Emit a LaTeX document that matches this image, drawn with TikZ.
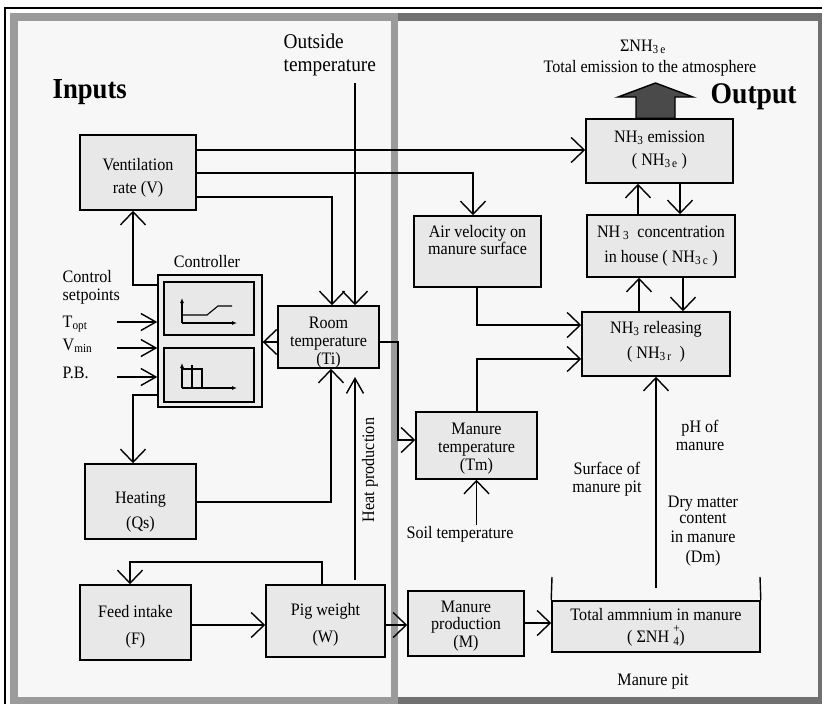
\documentclass[tikz,border=0pt]{standalone}
\usepackage{fontspec}
\setmainfont[FakeStretch=0.92]{Liberation Serif}
\usetikzlibrary{arrows.meta}
\definecolor{bgc}{HTML}{F7F7F7}
\definecolor{boxc}{HTML}{E8E8E8}
\definecolor{lpc}{HTML}{9B9B9B}
\definecolor{rpc}{HTML}{707070}
\definecolor{bigc}{HTML}{4A4A4A}
\definecolor{ctrlc}{HTML}{EDEDED}
\newcommand{\bt}{\fontsize{17.5}{21}\selectfont}
\newcommand{\lead}[1]{\fontsize{17.5}{#1}\selectfont}
\newcommand{\tb}[3]{\rule{0pt}{#1pt}#3\rule[-#2pt]{0pt}{#2pt}}
\begin{document}
\begin{tikzpicture}[x=1pt,y=-1pt,line width=1.4pt,
  >={Straight Barb[length=13pt,width=25pt]},
  narrowtip/.style={-{Straight Barb[length=15pt,width=17pt]}},
  box/.style={draw,line width=1.6pt,fill=boxc,inner sep=0pt,align=center,font=\bt},
  txt/.style={inner sep=0pt,anchor=base,font=\bt},
  axis/.style={line width=1.1pt,-{Latex[length=5pt,width=4pt]}},
  graph/.style={line width=1.1pt}]
\useasboundingbox (0,0) rectangle (822,704);
% panels
\fill[white] (0,0) rectangle (822,704);
\fill[rpc] (391,13) rectangle (822,704);
\fill[bgc] (398,21) rectangle (818,697);
\fill[lpc] (10,13) rectangle (398,704);
\fill[bgc] (18,21) rectangle (391,697);
\draw[line width=2pt] (5,704) -- (5,7.5) -- (822,7.5);

% boxes
\node[box,minimum width=116pt,minimum height=75pt,font=\lead{23}] (vent) at (138,172.5) {\tb{23}{5}{Ventilation\\rate (V)}};
\node[box,minimum width=147pt,minimum height=64pt,font=\lead{23}] (emis) at (659.5,151) {\tb{13}{8}{NH\textsubscript{3} emission\\( NH\textsubscript{3\,e} )}};
\node[box,minimum width=148pt,minimum height=62pt,font=\lead{25}] (conc) at (661,246) {\tb{14}{7}{NH\,\textsubscript{3}\ \ concentration\\in house ( NH\textsubscript{3\,c} )}};
\node[box,minimum width=127pt,minimum height=71pt] (air) at (477.5,251.5) {};
\node[inner sep=0pt,anchor=north,align=center,font=\lead{16}] (airt) at (477.5,225) {Air velocity on\\manure surface};
\node[box,minimum width=148pt,minimum height=64pt,font=\lead{25}] (rel) at (656,344) {\tb{13}{10}{NH\textsubscript{3} releasing\\( NH\textsubscript{3\,r}\ \ )}};
\node[box,minimum width=101pt,minimum height=62pt,font=\lead{18}] (room) at (328.5,337) {\tb{22}{4}{Room\\temperature\\(Ti)}};
\node[draw,line width=1.4pt,fill=ctrlc,minimum width=104pt,minimum height=132pt,inner sep=0pt] (ctrl) at (210,341) {};
\node[draw,line width=2pt,fill=boxc,minimum width=90pt,minimum height=53pt,inner sep=0pt] (ctrla) at (209,308.5) {};
\node[draw,line width=2pt,fill=boxc,minimum width=90pt,minimum height=54pt,inner sep=0pt] (ctrlb) at (209,375) {};
\node[box,minimum width=111pt,minimum height=75pt,font=\lead{25}] (heat) at (140.5,501.5) {\tb{33}{5}{Heating\\(Qs)}};
\node[box,minimum width=121pt,minimum height=67pt,font=\lead{18}] (mtemp) at (476.5,445.5) {\tb{17}{4}{Manure\\temperature\\(Tm)}};
\node[box,minimum width=111pt,minimum height=75pt,font=\lead{27}] (feed) at (135.5,622.5) {\tb{21}{5}{Feed intake\\(F)}};
\node[box,minimum width=119pt,minimum height=72pt,font=\lead{27}] (pig) at (325.5,621) {\tb{20}{5}{Pig weight\\(W)}};
\node[box,minimum width=116pt,minimum height=65pt,font=\lead{17.5}] (mprod) at (466,623.5) {\tb{16}{4}{Manure\\production\\(M)}};
\node[box,minimum width=208pt,minimum height=51pt,font=\lead{22}] (total) at (656,626.5) {\tb{14}{5}{Total ammnium in manure\\( ΣNH\ \rlap{\raisebox{3pt}{\textsuperscript{+}}}\raisebox{-1pt}{\textsubscript{4}})}};

% controller graphs
\draw[axis] (182,323) -- (182,298);
\draw[axis] (182,323) -- (237,323);
\draw[graph] (182,315) -- (207,315) -- (218,306) -- (232,306);
\draw[axis] (182,388) -- (182,363);
\draw[axis] (182,388) -- (237,388);
\draw[graph] (182,369) -- (202,369) -- (202,388);
\draw[graph] (192,365) -- (192,388);

% big output arrow
\draw[fill=bigc,line width=1.4pt] (emis.north -| 636,0) -- (636,97) -- (618,97) -- (655.5,83) -- (693,97) -- (675,97) -- (emis.north -| 675,0) -- cycle;

% free texts
\node[txt,font=\bfseries\fontsize{29}{29}\selectfont,anchor=base west] (inputs) at (52,98) {Inputs};
\node[txt,font=\bfseries\fontsize{30}{30}\selectfont,anchor=base west] (output) at (710,103) {Output};
\node[txt] (sigma) at (643,51) {ΣNH\textsubscript{3\,e}};
\node[txt] (totem) at (650,72) {Total emission to the atmosphere};
\node[txt,font=\fontsize{21}{21}\selectfont,anchor=base west] (out1) at (283,48) {Outside};
\node[txt,font=\fontsize{21}{21}\selectfont,anchor=base west] (out2) at (283,71) {temperature};
\node[txt] (ctrlt) at (207,267) {Controller};
\node[txt,anchor=base west] (cs1) at (62,282) {Control};
\node[txt,anchor=base west] (cs2) at (62,300) {setpoints};
\node[txt,anchor=base west] (topt) at (62,327) {T\textsubscript{opt}};
\node[txt,anchor=base west] (vmin) at (62,350) {V\textsubscript{min}};
\node[txt,anchor=base west] (pb) at (62,378) {P.B.};
\node[inner sep=0pt,font=\bt,rotate=90] (heatp) at (370,470) {Heat production};
\node[txt] (soil) at (460,538) {Soil temperature};
\node[txt] (ph1) at (700,432) {pH of};
\node[txt] (ph2) at (700,450) {manure};
\node[txt] (sf1) at (607,474) {Surface of};
\node[txt] (sf2) at (607,492) {manure pit};
\node[txt] (dm1) at (703,507) {Dry matter};
\node[txt] (dm2) at (703,523) {content};
\node[txt] (dm3) at (703,542) {in manure};
\node[txt] (dm4) at (703,562) {(Dm)};
\node[txt] (pit) at (653,685) {Manure pit};

% coordinates of free ends
\coordinate (otc) at (355,83);
\coordinate (hp0) at (355,580);
\coordinate (hp1) at (355,377);
\coordinate (tt) at (656,588);
\coordinate (soilc) at (476.5,525);

% connectors
\draw[->] (vent.east |- 0,150) -- (emis.west |- 0,150);
\draw[->] (vent.east |- 0,173) -| (air.north -| 473,0);
\draw[->] (vent.east |- 0,197) -| (room.north -| 332,0);
\draw[->] (otc) -- (room.north -| 355,0);
\draw[->] (ctrl.west |- 0,285) -| (vent.south -| 133,0);
\draw[->] (ctrl.west |- 0,395) -| (heat.north -| 133,0);
\draw[narrowtip] (117,322) -- (ctrl.west |- 0,322);
\draw[narrowtip] (117,348) -- (ctrl.west |- 0,348);
\draw[narrowtip] (117,377) -- (ctrl.west |- 0,377);
\draw[->] (room.west |- 0,342) -- (ctrl.east |- 0,342);
\draw[->] (heat.east |- 0,502) -| (room.south -| 331,0);
\draw[narrowtip] (hp0) -- (hp1);
\draw[->] (room.east |- 0,342) -| (398,440) -- (mtemp.west |- 0,440);
\draw[->] (mtemp.north -| 477,0) |- (rel.west |- 0,359);
\draw[->] (air.south -| 477,0) |- (rel.west |- 0,325);
\draw[->] (soilc) -- (mtemp.south -| soilc);
\draw[->] (rel.north -| 639,0) -- (conc.south -| 639,0);
\draw[->] (conc.south -| 683,0) -- (rel.north -| 683,0);
\draw[->] (conc.north -| 638,0) -- (emis.south -| 638,0);
\draw[->] (emis.south -| 680,0) -- (conc.north -| 680,0);
\draw[->] (tt) -- (rel.south -| tt);
\draw (552,577) -- (total.north west);
\draw (760,577) -- (total.north east);
\draw[->] (feed.east |- 0,625) -- (pig.west |- 0,625);
\draw[->] (pig.north -| 322,0) |- (130,562) -- (feed.north -| 130,0);
\draw[->] (pig.east |- 0,625) -- (mprod.west |- 0,625);
\draw[->] (mprod.east |- 0,623) -- (total.west |- 0,623);
\end{tikzpicture}
\end{document}
